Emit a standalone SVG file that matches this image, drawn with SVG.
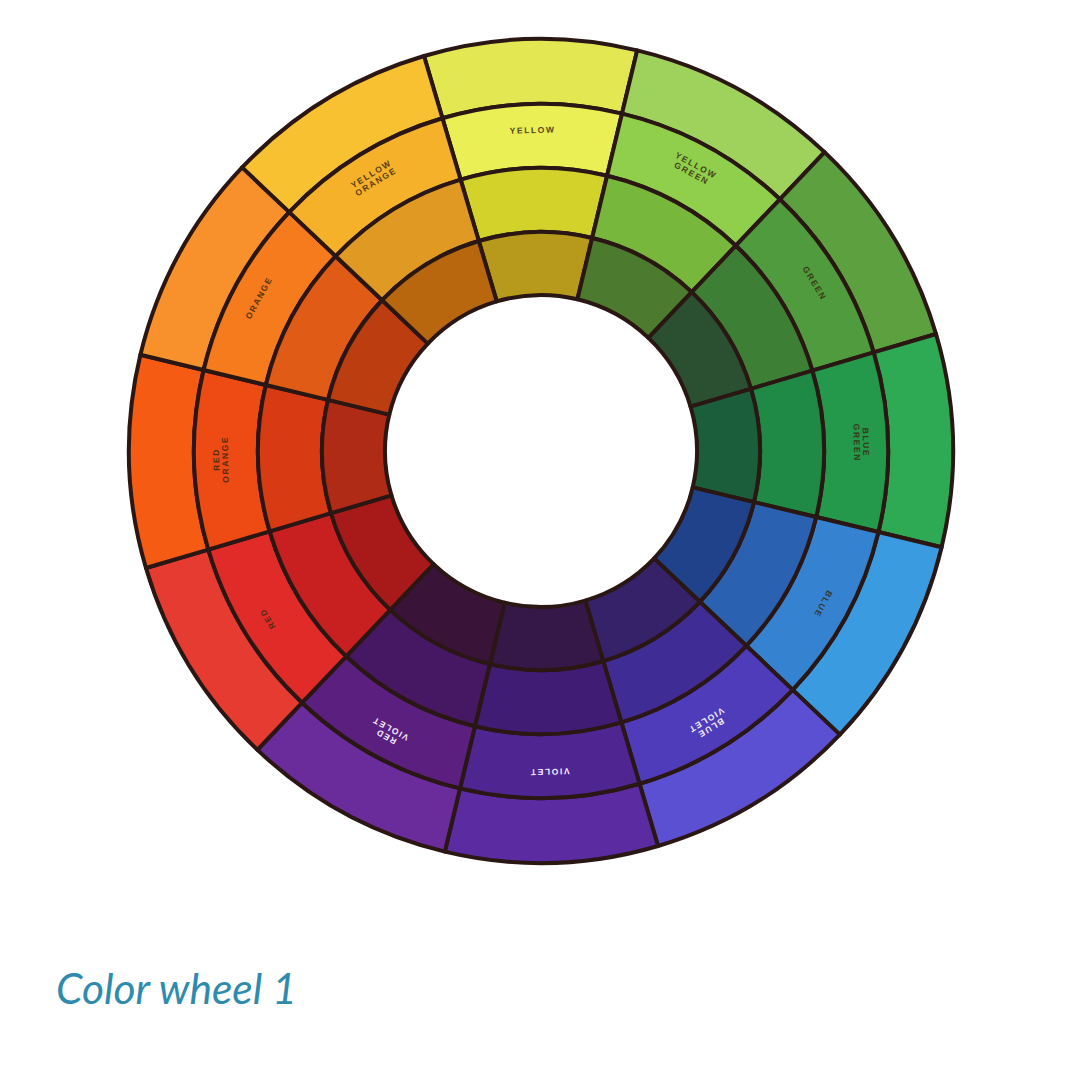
<svg xmlns="http://www.w3.org/2000/svg" xmlns:xlink="http://www.w3.org/1999/xlink" width="1080" height="1068" viewBox="0 0 1080 1068">
<defs>
<style>
.seg use{stroke:#2a1714;stroke-width:4;stroke-linejoin:round}
.lbl{font-family:"Liberation Sans",Arial,sans-serif;font-weight:bold;font-size:8.5px;letter-spacing:1.6px;text-anchor:middle}
.dk{fill:#3a2a12;opacity:0.85}
.wt{fill:#f4eef8}
.cap{font-family:Lato,"Open Sans",sans-serif;font-style:italic;font-size:42.5px;fill:#2e8bad}
</style>
<path id="rA" d="M-106.63,-397.96 A412,412 0 0 1 106.63,-397.96 L89.81,-335.18 A347,347 0 0 0 -89.81,-335.18 Z"/>
<path id="rB" d="M-89.81,-335.18 A347,347 0 0 1 89.81,-335.18 L73.25,-273.36 A283,283 0 0 0 -73.25,-273.36 Z"/>
<path id="rC" d="M-73.25,-273.36 A283,283 0 0 1 73.25,-273.36 L56.68,-211.54 A219,219 0 0 0 -56.68,-211.54 Z"/>
<path id="rD" d="M-56.68,-211.54 A219,219 0 0 1 56.68,-211.54 L40.38,-150.68 A156,156 0 0 0 -40.38,-150.68 Z"/>
</defs>
<rect width="1080" height="1068" fill="#ffffff"/>

<g id="yellow" class="seg" transform="translate(541,451) rotate(-1.5)">
<use xlink:href="#rA" fill="#e3e752"/><use xlink:href="#rB" fill="#e9ef55"/><use xlink:href="#rC" fill="#d3d22b"/><use xlink:href="#rD" fill="#b79a1c"/>
<text class="lbl dk" x="0" y="-318">YELLOW</text>
</g>
<g id="yellow-green" class="seg" transform="translate(541,451) rotate(28.5)">
<use xlink:href="#rA" fill="#9fd25c"/><use xlink:href="#rB" fill="#90cf4c"/><use xlink:href="#rC" fill="#77b83c"/><use xlink:href="#rD" fill="#4c7a2e"/>
<text class="lbl dk" x="0" y="-322">YELLOW</text><text class="lbl dk" x="0" y="-313">GREEN</text>
</g>
<g id="green" class="seg" transform="translate(541,451) rotate(58.5)">
<use xlink:href="#rA" fill="#5ca040"/><use xlink:href="#rB" fill="#4f9b3d"/><use xlink:href="#rC" fill="#3e7f36"/><use xlink:href="#rD" fill="#2b4f31"/>
<text class="lbl dk" x="0" y="-318">GREEN</text>
</g>
<g id="blue-green" class="seg" transform="translate(541,451) rotate(88.5)">
<use xlink:href="#rA" fill="#2eaa55"/><use xlink:href="#rB" fill="#24984b"/><use xlink:href="#rC" fill="#1e8a46"/><use xlink:href="#rD" fill="#1b5e3b"/>
<text class="lbl dk" x="0" y="-322">BLUE</text><text class="lbl dk" x="0" y="-313">GREEN</text>
</g>
<g id="blue" class="seg" transform="translate(541,451) rotate(118.5)">
<use xlink:href="#rA" fill="#3a9be0"/><use xlink:href="#rB" fill="#3583d0"/><use xlink:href="#rC" fill="#2b61b1"/><use xlink:href="#rD" fill="#20428a"/>
<text class="lbl dk" x="0" y="-318">BLUE</text>
</g>
<g id="blue-violet" class="seg" transform="translate(541,451) rotate(148.5)">
<use xlink:href="#rA" fill="#5b50d2"/><use xlink:href="#rB" fill="#4f3cba"/><use xlink:href="#rC" fill="#3f2c94"/><use xlink:href="#rD" fill="#362268"/>
<text class="lbl wt" x="0" y="-322">BLUE</text><text class="lbl wt" x="0" y="-313">VIOLET</text>
</g>
<g id="violet" class="seg" transform="translate(541,451) rotate(178.5)">
<use xlink:href="#rA" fill="#5b2ba2"/><use xlink:href="#rB" fill="#4f2592"/><use xlink:href="#rC" fill="#401c74"/><use xlink:href="#rD" fill="#361848"/>
<text class="lbl wt" x="0" y="-318">VIOLET</text>
</g>
<g id="red-violet" class="seg" transform="translate(541,451) rotate(208.5)">
<use xlink:href="#rA" fill="#6a2b9b"/><use xlink:href="#rB" fill="#5b1f80"/><use xlink:href="#rC" fill="#461762"/><use xlink:href="#rD" fill="#3a1438"/>
<text class="lbl wt" x="0" y="-322">RED</text><text class="lbl wt" x="0" y="-313">VIOLET</text>
</g>
<g id="red" class="seg" transform="translate(541,451) rotate(238.5)">
<use xlink:href="#rA" fill="#e63b31"/><use xlink:href="#rB" fill="#e02b29"/><use xlink:href="#rC" fill="#c81f21"/><use xlink:href="#rD" fill="#a81919"/>
<text class="lbl dk" x="0" y="-318">RED</text>
</g>
<g id="red-orange" class="seg" transform="translate(541,451) rotate(268.5)">
<use xlink:href="#rA" fill="#f55b12"/><use xlink:href="#rB" fill="#ee4b14"/><use xlink:href="#rC" fill="#d83b14"/><use xlink:href="#rD" fill="#b02b16"/>
<text class="lbl dk" x="0" y="-322">RED</text><text class="lbl dk" x="0" y="-313">ORANGE</text>
</g>
<g id="orange" class="seg" transform="translate(541,451) rotate(298.5)">
<use xlink:href="#rA" fill="#f8912b"/><use xlink:href="#rB" fill="#f57b1c"/><use xlink:href="#rC" fill="#e05b16"/><use xlink:href="#rD" fill="#bc3e10"/>
<text class="lbl dk" x="0" y="-318">ORANGE</text>
</g>
<g id="yellow-orange" class="seg" transform="translate(541,451) rotate(328.5)">
<use xlink:href="#rA" fill="#f8c132"/><use xlink:href="#rB" fill="#f5b12a"/><use xlink:href="#rC" fill="#e09922"/><use xlink:href="#rD" fill="#b8670e"/>
<text class="lbl dk" x="0" y="-322">YELLOW</text><text class="lbl dk" x="0" y="-313">ORANGE</text>
</g>

<g id="caption">
<text class="cap" x="56" y="1004">Color wheel 1</text>
</g>
</svg>
